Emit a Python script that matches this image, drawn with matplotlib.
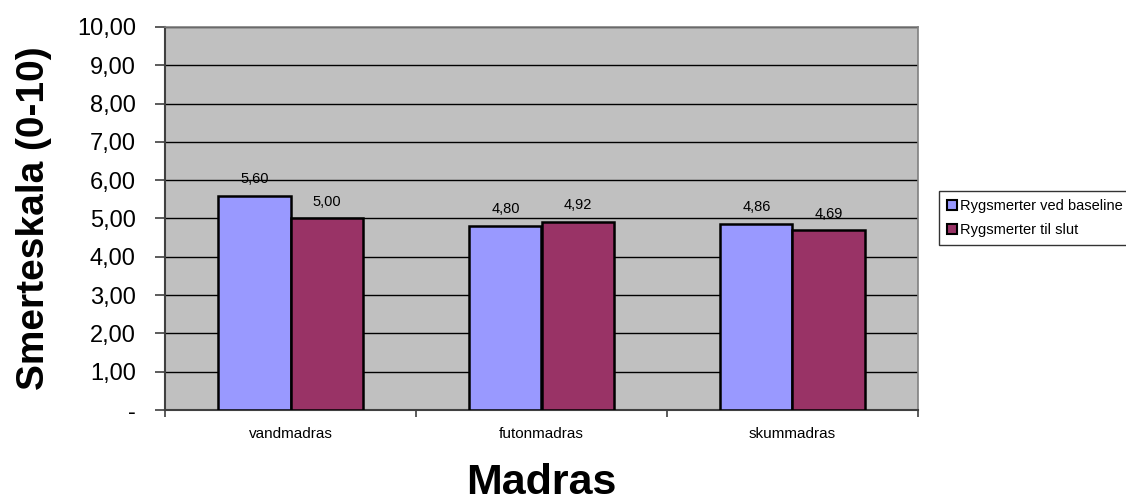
import numpy as np
import matplotlib.pyplot as plt
from matplotlib.ticker import FuncFormatter, FixedLocator

plt.rcParams["font.family"] = ["Liberation Sans", "DejaVu Sans"]

categories = ["vandmadras", "futonmadras", "skummadras"]
baseline = [5.60, 4.80, 4.86]
slut = [5.00, 4.92, 4.69]
series_names = ["Rygsmerter ved baseline", "Rygsmerter til slut"]
colors = ["#9999ff", "#993366"]


def komma(v, pos=None):
    if abs(v) < 1e-9:
        return "-"
    return f"{v:.2f}".replace(".", ",")


fig = plt.figure(figsize=(11.26, 5.01), dpi=100)
ax = fig.add_axes([165 / 1126, 1 - 410 / 501, 753 / 1126, 383 / 501])
ax.set_facecolor("#c0c0c0")

x = np.arange(len(categories))
w = 0.287
for i, (vals, name) in enumerate(zip([baseline, slut], series_names)):
    ax.bar(x + (i - 0.5) * w, vals, width=w, color=colors[i],
           edgecolor="black", linewidth=1.8, label=name, zorder=3)
    for xi, v in zip(x + (i - 0.5) * w, vals):
        ax.annotate(komma(v), (xi, v), xytext=(0, 7), textcoords="offset points",
                    ha="center", va="bottom", fontsize=10.5, zorder=4)

ax.set_xlim(-0.5, 2.5)
ax.set_ylim(0, 10)
ax.set_yticks(np.arange(0, 11, 1))
ax.yaxis.set_major_formatter(FuncFormatter(komma))
ax.grid(axis="y", color="black", lw=1, zorder=1)

# category boundaries get the tick marks, names sit between them
ax.xaxis.set_major_locator(FixedLocator([-0.5, 0.5, 1.5, 2.5]))
ax.xaxis.set_major_formatter(FuncFormatter(lambda v, p: ""))
ax.xaxis.set_minor_locator(FixedLocator(x))
ax.set_xticklabels(categories, minor=True, fontsize=11)
ax.tick_params(axis="x", which="minor", length=0, pad=12)
ax.tick_params(axis="x", which="major", length=5, width=1.2, color="#404040")
ax.tick_params(axis="y", length=7, width=1.2, color="#404040", labelsize=17, pad=14)

for side in ["left", "bottom"]:
    ax.spines[side].set_color("#404040")
    ax.spines[side].set_linewidth(1.5)
for side in ["top", "right"]:
    ax.spines[side].set_color("#808080")
    ax.spines[side].set_linewidth(1.2)

ax.set_xlabel("Madras", fontsize=31, fontweight="bold", labelpad=16)
ax.set_ylabel("Smerteskala (0-10)", fontsize=28, fontweight="bold", labelpad=18)

leg = fig.legend(loc="upper left", bbox_to_anchor=(939 / 1126, 1 - 191 / 501),
                 fontsize=10.5, frameon=True, fancybox=False, handlelength=0.7,
                 handleheight=0.7, handletextpad=0.2, borderpad=0.55,
                 labelspacing=0.7, borderaxespad=0)
leg.get_frame().set_edgecolor("black")
leg.get_frame().set_linewidth(1)
for h in leg.legend_handles:
    h.set_linewidth(1.5)

fig.savefig("out.png", dpi=100)
